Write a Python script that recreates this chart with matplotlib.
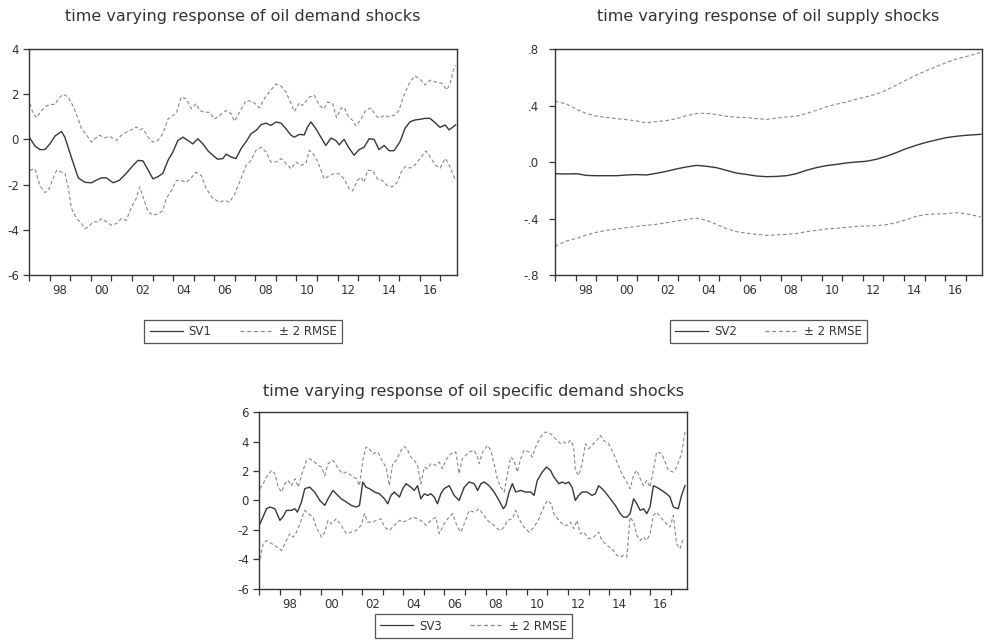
import numpy as np
import matplotlib
matplotlib.use("Agg")
import matplotlib.pyplot as plt
from matplotlib.lines import Line2D

# (decimal year, value)
sv1 = [(1997.0, 0.1), (1997.28, -0.3), (1997.52, -0.45), (1997.76, -0.45), (1998.0, -0.2), (1998.25, 0.15),
       (1998.57, 0.35), (1998.73, 0.1), (1999.05, -0.8), (1999.38, -1.7), (1999.7, -1.9), (2000.03, -1.92),
       (2000.27, -1.8), (2000.51, -1.7), (2000.75, -1.7), (2001.08, -1.92), (2001.4, -1.8), (2001.72, -1.5),
       (2002.05, -1.15), (2002.29, -0.93), (2002.53, -0.95), (2002.78, -1.35), (2003.02, -1.75), (2003.26, -1.65),
       (2003.5, -1.5), (2003.75, -0.93), (2003.99, -0.55), (2004.23, -0.05), (2004.48, 0.1), (2004.72, -0.05),
       (2004.96, -0.2), (2005.2, 0.03), (2005.45, -0.2), (2005.69, -0.5), (2005.93, -0.7), (2006.17, -0.88),
       (2006.42, -0.85), (2006.58, -0.65), (2006.82, -0.78), (2007.06, -0.85), (2007.31, -0.4), (2007.55, -0.1),
       (2007.79, 0.25), (2008.04, 0.4), (2008.28, 0.65), (2008.52, 0.72), (2008.76, 0.62), (2009.01, 0.77),
       (2009.25, 0.72), (2009.49, 0.47), (2009.74, 0.18), (2009.9, 0.1), (2010.14, 0.22), (2010.38, 0.2),
       (2010.54, 0.55), (2010.71, 0.77), (2010.95, 0.47), (2011.19, 0.1), (2011.43, -0.27), (2011.68, 0.06),
       (2011.92, -0.05), (2012.08, -0.24), (2012.32, 0.0), (2012.57, -0.4), (2012.81, -0.7), (2013.05, -0.45),
       (2013.29, -0.35), (2013.54, 0.03), (2013.78, 0.0), (2014.02, -0.45), (2014.27, -0.27), (2014.51, -0.5),
       (2014.75, -0.5), (2015.04, -0.1), (2015.29, 0.5), (2015.53, 0.78), (2015.77, 0.86), (2016.02, 0.89),
       (2016.26, 0.93), (2016.5, 0.93), (2016.75, 0.74), (2016.99, 0.53), (2017.24, 0.64), (2017.43, 0.42),
       (2017.59, 0.53), (2017.75, 0.64)]

up1 = [(1997.03, 1.58), (1997.19, 1.14), (1997.36, 0.96), (1997.52, 1.2), (1997.76, 1.43), (1998.0, 1.55),
       (1998.25, 1.55), (1998.41, 1.8), (1998.65, 2.0), (1998.89, 1.87), (1999.14, 1.46), (1999.38, 0.9),
       (1999.54, 0.47), (1999.78, 0.2), (2000.03, -0.12), (2000.19, 0.03), (2000.43, 0.18), (2000.67, 0.07),
       (2000.92, 0.13), (2001.24, -0.04), (2001.48, 0.18), (2001.72, 0.32), (2001.97, 0.43), (2002.21, 0.55),
       (2002.37, 0.43), (2002.53, 0.47), (2002.78, 0.1), (2003.02, -0.12), (2003.26, -0.04), (2003.5, 0.25),
       (2003.75, 0.9), (2003.99, 1.06), (2004.15, 1.14), (2004.39, 1.87), (2004.64, 1.8), (2004.88, 1.36),
       (2005.12, 1.58), (2005.28, 1.28), (2005.53, 1.2), (2005.77, 1.2), (2006.01, 0.9), (2006.26, 1.06),
       (2006.58, 1.28), (2006.82, 1.14), (2006.98, 0.8), (2007.23, 1.2), (2007.55, 1.72), (2007.87, 1.68),
       (2008.2, 1.4), (2008.44, 1.8), (2008.68, 2.1), (2009.01, 2.45), (2009.25, 2.35), (2009.49, 2.1),
       (2009.74, 1.58), (2009.9, 1.23), (2010.14, 1.62), (2010.3, 1.5), (2010.62, 1.87), (2010.87, 1.95),
       (2011.11, 1.5), (2011.35, 1.36), (2011.51, 1.65), (2011.76, 1.6), (2011.95, 0.96), (2012.16, 1.36),
       (2012.32, 1.43), (2012.49, 1.06), (2012.73, 0.84), (2012.89, 0.6), (2013.13, 0.87), (2013.38, 1.3),
       (2013.62, 1.38), (2013.86, 1.06), (2014.02, 0.94), (2014.27, 1.06), (2014.51, 1.0), (2014.75, 1.06),
       (2014.99, 1.28), (2015.2, 1.89), (2015.53, 2.55), (2015.77, 2.81), (2016.02, 2.66), (2016.26, 2.41),
       (2016.5, 2.62), (2016.75, 2.55), (2017.07, 2.48), (2017.32, 2.19), (2017.48, 2.48), (2017.64, 3.07),
       (2017.75, 3.29)]

lo1 = [(1997.03, -1.37), (1997.28, -1.3), (1997.52, -2.05), (1997.76, -2.35), (1997.92, -2.28), (1998.17, -1.7),
       (1998.33, -1.37), (1998.57, -1.45), (1998.73, -1.5), (1998.89, -2.1), (1999.05, -3.05), (1999.3, -3.5),
       (1999.54, -3.72), (1999.7, -3.95), (1999.86, -3.88), (2000.11, -3.65), (2000.35, -3.65), (2000.51, -3.5),
       (2000.75, -3.65), (2001.0, -3.8), (2001.24, -3.72), (2001.48, -3.5), (2001.72, -3.58), (2001.97, -3.0),
       (2002.21, -2.6), (2002.37, -2.1), (2002.53, -2.53), (2002.78, -3.2), (2003.02, -3.35), (2003.26, -3.3),
       (2003.5, -3.15), (2003.67, -2.6), (2003.91, -2.28), (2004.15, -1.82), (2004.39, -1.82), (2004.64, -1.9),
       (2004.88, -1.7), (2005.12, -1.45), (2005.37, -1.6), (2005.61, -2.18), (2005.93, -2.6), (2006.26, -2.78),
       (2006.5, -2.7), (2006.74, -2.78), (2006.98, -2.45), (2007.23, -1.9), (2007.55, -1.15), (2007.79, -0.93),
       (2008.04, -0.47), (2008.28, -0.35), (2008.52, -0.55), (2008.76, -1.0), (2009.01, -1.0), (2009.25, -0.85),
       (2009.49, -1.07), (2009.74, -1.3), (2009.98, -1.0), (2010.22, -1.15), (2010.46, -1.07), (2010.62, -0.48),
       (2010.87, -0.7), (2011.11, -1.15), (2011.35, -1.75), (2011.6, -1.6), (2011.84, -1.52), (2012.08, -1.52),
       (2012.32, -1.75), (2012.57, -2.2), (2012.73, -2.28), (2012.97, -1.82), (2013.13, -1.67), (2013.29, -1.9),
       (2013.46, -1.37), (2013.7, -1.37), (2013.94, -1.75), (2014.18, -1.82), (2014.43, -2.05), (2014.67, -2.1),
       (2014.91, -1.9), (2015.1, -1.45), (2015.29, -1.2), (2015.53, -1.27), (2015.77, -1.13), (2016.02, -0.84),
       (2016.3, -0.51), (2016.5, -0.76), (2016.75, -1.13), (2016.99, -1.27), (2017.24, -0.84), (2017.4, -1.06),
       (2017.6, -1.5), (2017.75, -1.83)]

t2 = [1997.0, 1997.57, 1998.05, 1998.54, 1999.02, 1999.51, 2000.0, 2000.48, 2000.97, 2001.45,
      2001.94, 2002.43, 2002.92, 2003.4, 2003.89, 2004.37, 2004.86, 2005.35, 2005.83, 2006.32,
      2006.81, 2007.3, 2007.78, 2008.27, 2008.75, 2009.24, 2009.73, 2010.21, 2010.7, 2011.18,
      2011.67, 2012.16, 2012.65, 2013.13, 2013.62, 2014.1, 2014.59, 2015.08, 2015.56, 2016.05,
      2016.54, 2017.02, 2017.75]
sv2 = [-0.083, -0.085, -0.083, -0.095, -0.097, -0.097, -0.097, -0.092, -0.089, -0.092,
       -0.080, -0.066, -0.049, -0.035, -0.024, -0.030, -0.040, -0.059, -0.078, -0.088,
       -0.099, -0.104, -0.102, -0.097, -0.083, -0.059, -0.040, -0.026, -0.017, -0.007,
       0.0, 0.005, 0.019, 0.040, 0.066, 0.094, 0.118, 0.139, 0.156, 0.172,
       0.182, 0.189, 0.196]
up2 = [0.431, 0.41, 0.372, 0.343, 0.324, 0.315, 0.307, 0.30, 0.291, 0.277,
       0.286, 0.293, 0.307, 0.328, 0.343, 0.345, 0.336, 0.324, 0.317, 0.315,
       0.307, 0.302, 0.31, 0.319, 0.324, 0.343, 0.366, 0.39, 0.409, 0.424,
       0.445, 0.461, 0.48, 0.508, 0.544, 0.58, 0.615, 0.646, 0.675, 0.703,
       0.729, 0.746, 0.776]
lo2 = [-0.597, -0.559, -0.54, -0.516, -0.498, -0.484, -0.474, -0.465, -0.456, -0.448,
       -0.441, -0.43, -0.418, -0.406, -0.397, -0.413, -0.441, -0.472, -0.493, -0.503,
       -0.512, -0.519, -0.517, -0.512, -0.507, -0.493, -0.484, -0.474, -0.47, -0.463,
       -0.456, -0.453, -0.451, -0.444, -0.43, -0.409, -0.385, -0.371, -0.368, -0.366,
       -0.359, -0.366, -0.389]

sv3 = [(1997.03, -1.6), (1997.19, -1.1), (1997.35, -0.57), (1997.52, -0.45), (1997.76, -0.57), (1998.0, -1.36),
       (1998.16, -1.1), (1998.32, -0.68), (1998.56, -0.68), (1998.73, -0.57), (1998.85, -0.8), (1999.05, -0.11),
       (1999.21, 0.8), (1999.45, 0.9), (1999.69, 0.57), (1999.94, 0.0), (2000.18, -0.34), (2000.34, 0.11),
       (2000.58, 0.68), (2000.74, 0.45), (2000.98, 0.11), (2001.23, -0.11), (2001.47, -0.34), (2001.71, -0.45),
       (2001.87, -0.34), (2002.03, 1.25), (2002.19, 0.9), (2002.35, 0.8), (2002.6, 0.57), (2002.84, 0.45),
       (2003.08, 0.11), (2003.24, -0.23), (2003.4, 0.34), (2003.56, 0.57), (2003.81, 0.23), (2003.97, 0.8),
       (2004.13, 1.14), (2004.37, 0.9), (2004.53, 0.68), (2004.69, 1.0), (2004.85, 0.11), (2005.02, 0.45),
       (2005.18, 0.34), (2005.34, 0.45), (2005.5, 0.23), (2005.66, -0.23), (2005.82, 0.45), (2005.98, 0.8),
       (2006.23, 1.0), (2006.47, 0.34), (2006.71, 0.0), (2006.87, 0.57), (2006.96, 0.9), (2007.2, 1.25),
       (2007.44, 1.14), (2007.61, 0.68), (2007.77, 1.14), (2007.93, 1.25), (2008.17, 1.0), (2008.41, 0.57),
       (2008.65, 0.0), (2008.86, -0.57), (2008.98, -0.34), (2009.14, 0.57), (2009.3, 1.14), (2009.46, 0.57),
       (2009.7, 0.68), (2009.94, 0.57), (2010.19, 0.57), (2010.35, 0.34), (2010.51, 1.36), (2010.75, 1.93),
       (2010.96, 2.27), (2011.15, 2.05), (2011.31, 1.6), (2011.56, 1.14), (2011.72, 1.25), (2011.88, 1.14),
       (2012.04, 1.25), (2012.2, 0.9), (2012.36, 0.0), (2012.52, 0.34), (2012.69, 0.57), (2012.93, 0.57),
       (2013.17, 0.34), (2013.33, 0.45), (2013.49, 1.0), (2013.65, 0.8), (2013.81, 0.57), (2014.06, 0.11),
       (2014.3, -0.34), (2014.54, -0.9), (2014.7, -1.14), (2014.86, -1.14), (2015.02, -0.9), (2015.19, 0.11),
       (2015.35, -0.23), (2015.51, -0.68), (2015.67, -0.57), (2015.83, -0.9), (2015.99, -0.45), (2016.15, 1.0),
       (2016.31, 0.9), (2016.56, 0.68), (2016.8, 0.45), (2016.96, 0.23), (2017.12, -0.45), (2017.36, -0.57),
       (2017.52, 0.34), (2017.69, 1.0)]

up3 = [(1997.03, 0.8), (1997.19, 1.14), (1997.35, 1.6), (1997.6, 2.05), (1997.76, 1.82), (1997.92, 0.9),
       (1998.08, 0.57), (1998.24, 1.14), (1998.4, 1.36), (1998.56, 1.0), (1998.73, 1.48), (1998.89, 0.9),
       (1999.05, 1.7), (1999.29, 2.73), (1999.45, 2.84), (1999.69, 2.6), (1999.85, 2.39), (2000.02, 2.27),
       (2000.18, 1.7), (2000.34, 2.5), (2000.58, 2.73), (2000.74, 2.39), (2000.9, 2.05), (2001.06, 1.82),
       (2001.23, 1.93), (2001.47, 1.7), (2001.71, 1.48), (2001.87, 1.0), (2002.03, 2.73), (2002.19, 3.64),
       (2002.35, 3.52), (2002.52, 3.18), (2002.76, 3.3), (2003.0, 2.61), (2003.16, 2.27), (2003.32, 1.0),
       (2003.48, 2.5), (2003.65, 2.73), (2003.89, 3.41), (2004.05, 3.68), (2004.21, 3.41), (2004.37, 2.95),
       (2004.53, 2.73), (2004.69, 2.39), (2004.85, 1.14), (2005.02, 2.27), (2005.18, 2.16), (2005.34, 2.5),
       (2005.58, 2.39), (2005.74, 2.61), (2005.9, 2.16), (2006.06, 2.73), (2006.31, 3.18), (2006.55, 3.3),
       (2006.71, 1.82), (2006.87, 2.84), (2007.2, 3.3), (2007.44, 3.41), (2007.61, 2.95), (2007.69, 2.5),
       (2007.85, 3.3), (2008.09, 3.75), (2008.25, 3.41), (2008.41, 2.5), (2008.57, 1.48), (2008.73, 0.9),
       (2008.9, 0.57), (2009.06, 1.82), (2009.22, 2.95), (2009.38, 2.73), (2009.54, 1.93), (2009.7, 2.84),
       (2009.86, 3.41), (2010.11, 3.3), (2010.27, 2.95), (2010.43, 3.64), (2010.67, 4.32), (2010.91, 4.66),
       (2011.15, 4.55), (2011.4, 4.2), (2011.64, 3.86), (2011.8, 3.98), (2011.96, 3.86), (2012.12, 4.09),
       (2012.28, 3.64), (2012.36, 2.05), (2012.52, 1.7), (2012.69, 2.5), (2012.85, 3.86), (2013.01, 3.52),
       (2013.17, 3.75), (2013.41, 4.09), (2013.57, 4.43), (2013.73, 4.09), (2013.98, 3.86), (2014.22, 3.18),
       (2014.38, 2.61), (2014.62, 1.82), (2014.86, 1.25), (2015.02, 0.8), (2015.19, 1.7), (2015.35, 2.05),
       (2015.51, 1.48), (2015.67, 1.0), (2015.83, 1.36), (2015.99, 0.9), (2016.15, 2.05), (2016.31, 3.3),
       (2016.56, 3.18), (2016.72, 2.61), (2016.88, 2.05), (2017.12, 1.93), (2017.28, 2.27), (2017.52, 3.18),
       (2017.69, 4.66)]

lo3 = [(1997.03, -3.98), (1997.19, -2.95), (1997.35, -2.73), (1997.6, -2.95), (1997.76, -3.07), (1998.08, -3.41),
       (1998.32, -2.73), (1998.48, -2.27), (1998.65, -2.5), (1998.81, -2.16), (1998.97, -1.6), (1999.21, -0.68),
       (1999.37, -0.9), (1999.61, -1.14), (1999.77, -1.82), (2000.02, -2.5), (2000.18, -2.16), (2000.34, -1.36),
       (2000.5, -1.6), (2000.74, -1.25), (2000.98, -1.7), (2001.23, -2.27), (2001.47, -2.16), (2001.71, -2.05),
       (2001.95, -1.7), (2002.11, -0.9), (2002.27, -1.48), (2002.52, -1.48), (2002.68, -1.36), (2002.92, -1.25),
       (2003.08, -1.82), (2003.32, -2.05), (2003.56, -1.7), (2003.81, -1.36), (2003.97, -1.48), (2004.21, -1.36),
       (2004.45, -1.14), (2004.69, -1.25), (2004.85, -1.36), (2005.1, -1.7), (2005.34, -1.36), (2005.58, -1.14),
       (2005.74, -2.27), (2005.98, -1.6), (2006.15, -1.25), (2006.39, -0.9), (2006.63, -1.82), (2006.79, -2.16),
       (2006.96, -1.6), (2007.2, -0.68), (2007.44, -0.8), (2007.69, -0.57), (2007.85, -0.9), (2008.09, -1.36),
       (2008.33, -1.6), (2008.57, -1.93), (2008.73, -2.05), (2008.9, -1.82), (2009.06, -1.36), (2009.3, -1.25),
       (2009.46, -0.68), (2009.62, -1.25), (2009.86, -1.82), (2010.11, -2.16), (2010.35, -1.82), (2010.59, -1.25),
       (2010.75, -0.68), (2010.99, 0.0), (2011.19, -0.23), (2011.31, -0.9), (2011.56, -1.36), (2011.8, -1.7),
       (2011.96, -1.7), (2012.12, -1.48), (2012.28, -1.93), (2012.44, -1.36), (2012.6, -2.27), (2012.77, -2.16),
       (2013.01, -2.61), (2013.25, -2.5), (2013.49, -2.16), (2013.65, -2.73), (2013.9, -3.07), (2014.14, -3.3),
       (2014.38, -3.75), (2014.54, -3.86), (2014.7, -3.75), (2014.86, -3.86), (2015.02, -1.14), (2015.19, -1.48),
       (2015.35, -2.39), (2015.51, -2.73), (2015.67, -2.5), (2015.83, -2.73), (2015.99, -2.27), (2016.15, -1.02),
       (2016.31, -0.8), (2016.56, -1.25), (2016.8, -1.6), (2016.96, -1.82), (2017.12, -1.02), (2017.28, -2.95),
       (2017.44, -3.3), (2017.6, -2.61)]

titles = ["time varying response of oil demand shocks",
          "time varying response of oil supply shocks",
          "time varying response of oil specific demand shocks"]
names = ["SV1", "SV2", "SV3"]
yticks1 = [-6, -4, -2, 0, 2, 4]
yticks2 = [-0.8, -0.4, 0.0, 0.4, 0.8]
ylabels2 = ["-.8", "-.4", ".0", ".4", ".8"]
yticks3 = [-6, -4, -2, 0, 2, 4, 6]
xlabels = ["98", "00", "02", "04", "06", "08", "10", "12", "14", "16"]

plt.rcParams['font.family'] = ['DejaVu Sans']
W, H = 984, 644
fig = plt.figure(figsize=(W / 100, H / 100), dpi=100)


def px_axes(l, t, r, b):
    return fig.add_axes([l / W, 1 - b / H, (r - l) / W, (b - t) / H])


ink = '#333333'
mid_c = '#383838'
band_c = '#888888'
dash = (0, (3.2, 2.2))


def style(ax, yt, ylab, ypad):
    ax.set_xlim(1997.0, 2017.8)
    ax.set_xticks(np.arange(1997, 2018))
    ax.set_xticklabels([])
    ax.set_xticks(np.arange(1998.5, 2017, 2), minor=True)
    ax.set_xticklabels(xlabels, minor=True)
    ax.tick_params(axis='x', which='major', direction='out', length=4.5, width=0.9, color=ink)
    ax.tick_params(axis='x', which='minor', length=0, pad=6.5, labelsize=8.5, labelcolor=ink)
    ax.set_yticks(yt)
    ax.set_yticklabels(ylab)
    ax.tick_params(axis='y', direction='out', length=4.5, width=0.9, color=ink,
                   labelsize=8.5, labelcolor=ink, pad=ypad)
    for s in ax.spines.values():
        s.set_color(ink)
        s.set_linewidth(1.0)


def legend(ax, name, ycen):
    pos = ax.get_position()
    xc = pos.x0 + pos.width / 2
    h = [Line2D([], [], color=mid_c, lw=0.9), Line2D([], [], color=band_c, lw=0.9, ls=dash)]
    lg = ax.legend(h, [name, "± 2 RMSE"], loc='center', bbox_to_anchor=(xc, 1 - ycen / H),
                   bbox_transform=fig.transFigure, ncol=2, fancybox=False, framealpha=1,
                   edgecolor='#555555', fontsize=8.5, handlelength=2.8, handletextpad=0.5,
                   columnspacing=2.4, borderpad=0.45, borderaxespad=0)
    lg.get_frame().set_linewidth(0.9)
    for t in lg.get_texts():
        t.set_color(ink)


ax1 = px_axes(29.3, 49, 456.7, 275)
ax2 = px_axes(555, 49, 982, 275)
ax3 = px_axes(259.3, 412.3, 687.3, 588.5)

for ax, mid, up, lo in [(ax1, sv1, up1, lo1), (ax3, sv3, up3, lo3)]:
    for ser, c, ls, lw in [(up, band_c, dash, 0.8), (lo, band_c, dash, 0.8), (mid, mid_c, '-', 1.0)]:
        t, v = np.array(ser).T
        ax.plot(t, v, color=c, ls=ls, lw=lw)

ax2.plot(t2, up2, color=band_c, ls=dash, lw=0.8)
ax2.plot(t2, lo2, color=band_c, ls=dash, lw=0.8)
ax2.plot(t2, sv2, color=mid_c, lw=1.0)

ax1.set_ylim(-6, 4)
ax2.set_ylim(-0.8, 0.8)
ax3.set_ylim(-6, 6)
style(ax1, yticks1, [str(v) for v in yticks1], 3)
style(ax2, yticks2, ylabels2, 7)
style(ax3, yticks3, [str(v) for v in yticks3], 3)

ax1.text(0.5, 1 + 33 / 226, titles[0], transform=ax1.transAxes, ha='center', va='center',
         fontsize=11.5, color=ink)
ax2.text(0.5, 1 + 33 / 226, titles[1], transform=ax2.transAxes, ha='center', va='center',
         fontsize=11.5, color=ink)
ax3.text(0.5, 1 + 21 / 176, titles[2], transform=ax3.transAxes, ha='center', va='center',
         fontsize=11.5, color=ink)

legend(ax1, names[0], 331.5)
legend(ax2, names[1], 331.5)
legend(ax3, names[2], 626)

fig.savefig("out.png", dpi=100, facecolor='white')
